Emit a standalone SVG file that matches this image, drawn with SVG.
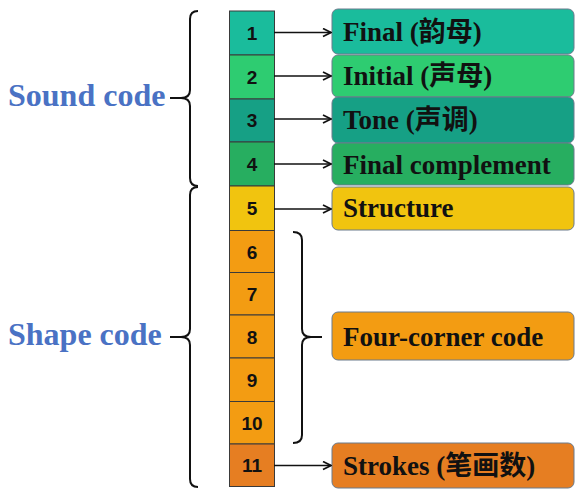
<svg xmlns="http://www.w3.org/2000/svg" width="575" height="492" viewBox="0 0 575 492">
<style>
.cell{stroke:#3a3a3a;stroke-width:1}
.num{font-family:"Liberation Sans",Arial,sans-serif;font-weight:bold;font-size:19px;fill:#111;text-anchor:middle}
.box{stroke:#6b7b8c;stroke-width:1}
.lbl{font-family:"Liberation Serif","Noto Sans CJK SC",serif;font-weight:bold;font-size:27px;fill:#111}
.grp{font-family:"Liberation Serif",serif;font-weight:bold;font-size:32px;fill:#4a72c4}
.br{fill:none;stroke:#111;stroke-width:2}
.arr{stroke:#111;stroke-width:1.6;fill:none}
</style>
<defs>
<marker id="ah" viewBox="0 0 10 10" refX="9" refY="5" markerWidth="10" markerHeight="10" markerUnits="userSpaceOnUse" orient="auto">
<path d="M1,1 L9,5 L1,9" fill="none" stroke="#111" stroke-width="1.7"/>
</marker>
</defs>
<rect width="575" height="492" fill="#fff"/>
<g id="cells">
<g id="c1"><rect class="cell" x="229.5" y="11" width="45" height="44" fill="#1abc9c"/><text class="num" x="252" y="39.5">1</text></g>
<g id="c2"><rect class="cell" x="229.5" y="55" width="45" height="44" fill="#2ecc71"/><text class="num" x="252" y="83.5">2</text></g>
<g id="c3"><rect class="cell" x="229.5" y="99" width="45" height="43" fill="#16a085"/><text class="num" x="252" y="127">3</text></g>
<g id="c4"><rect class="cell" x="229.5" y="142" width="45" height="44" fill="#27ae60"/><text class="num" x="252" y="171">4</text></g>
<g id="c5"><rect class="cell" x="229.5" y="186" width="45" height="44.5" fill="#f1c40f"/><text class="num" x="252" y="215">5</text></g>
<g id="c6"><rect class="cell" x="229.5" y="230.5" width="45" height="42" fill="#f39c12"/><text class="num" x="252" y="258.5">6</text></g>
<g id="c7"><rect class="cell" x="229.5" y="272.5" width="45" height="42.5" fill="#f39c12"/><text class="num" x="252" y="300.5">7</text></g>
<g id="c8"><rect class="cell" x="229.5" y="315" width="45" height="43" fill="#f39c12"/><text class="num" x="252" y="343.5">8</text></g>
<g id="c9"><rect class="cell" x="229.5" y="358" width="45" height="43.5" fill="#f39c12"/><text class="num" x="252" y="386.5">9</text></g>
<g id="c10"><rect class="cell" x="229.5" y="401.5" width="45" height="42.5" fill="#f39c12"/><text class="num" x="252" y="429.5">10</text></g>
<g id="c11"><rect class="cell" x="229.5" y="444" width="45" height="42.5" fill="#e67e22"/><text class="num" x="252" y="472">11</text></g>
</g>
<g id="n-final"><rect class="box" x="332" y="9" width="242" height="45" rx="6" fill="#1abc9c"/><text class="lbl" x="343" y="40.5">Final (韵母)</text></g>
<g id="n-initial"><rect class="box" x="332" y="55" width="242" height="42" rx="6" fill="#2ecc71"/><text class="lbl" x="343" y="84.5">Initial (声母)</text></g>
<g id="n-tone"><rect class="box" x="332" y="97" width="242" height="46" rx="6" fill="#16a085"/><text class="lbl" x="343" y="129">Tone (声调)</text></g>
<g id="n-fc"><rect class="box" x="332" y="143" width="242" height="42" rx="6" fill="#27ae60"/><text class="lbl" x="343" y="174">Final complement</text></g>
<g id="n-struct"><rect class="box" x="332" y="187" width="242" height="43" rx="6" fill="#f1c40f"/><text class="lbl" x="343" y="217">Structure</text></g>
<g id="n-four"><rect class="box" x="332" y="312" width="242" height="48" rx="6" fill="#f39c12"/><text class="lbl" x="343" y="346">Four-corner code</text></g>
<g id="n-strokes"><rect class="box" x="332" y="443" width="242" height="45" rx="6" fill="#e67e22"/><text class="lbl" x="343" y="475">Strokes (笔画数)</text></g>
<g id="n-sound"><text class="grp" x="8" y="106">Sound code</text></g>
<g id="n-shape"><text class="grp" x="8" y="345">Shape code</text></g>
<g id="connectors">
<line class="arr" x1="274" y1="32.5" x2="331" y2="32.5" marker-end="url(#ah)"/>
<line class="arr" x1="274" y1="76" x2="331" y2="76" marker-end="url(#ah)"/>
<line class="arr" x1="274" y1="119" x2="331" y2="119" marker-end="url(#ah)"/>
<line class="arr" x1="274" y1="164" x2="331" y2="164" marker-end="url(#ah)"/>
<line class="arr" x1="274" y1="209" x2="331" y2="209" marker-end="url(#ah)"/>
<line class="arr" x1="274" y1="465.5" x2="331" y2="465.5" marker-end="url(#ah)"/>
<path class="br" d="M198,11 Q190,11 190,19 L190,90 Q190,98 181,98 L170,98 M181,98 Q190,98 190,106 L190,178 Q190,186 198,186"/>
<path class="br" d="M198,187 Q190,187 190,195 L190,329 Q190,337 181,337 L170,337 M181,337 Q190,337 190,345 L190,479 Q190,487 198,487"/>
<path class="br" d="M293,232 Q302,232 302,240 L302,329 Q302,337 311,337 L322,337 M311,337 Q302,337 302,345 L302,435 Q302,443 293,443"/>
</g>
</svg>
